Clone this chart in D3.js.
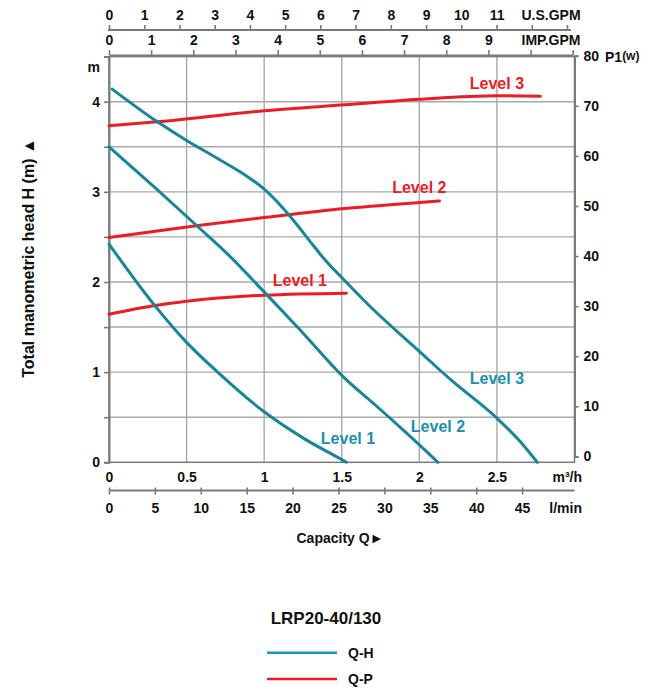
<!DOCTYPE html>
<html>
<head>
<meta charset="utf-8">
<script src="https://cdn.jsdelivr.net/npm/d3@7"></script>
<style>
  body { margin: 0; background: #fff; }
  text { font-family: "Liberation Sans", Arial, sans-serif; font-weight: bold; fill: #111; }
</style>
</head>
<body>
<div id="chart"></div>
<script>
// ---- data (flow in m3/h, head in m, power in W) ----
const flowQH1 = [0, 0.285, 0.5, 0.7, 1.0, 1.26, 1.5, 1.53]
const headQH1 = [2.42, 1.76, 1.33, 1.00, 0.56, 0.26, 0.03, 0]
const flowQH2 = [0, 0.3, 0.575, 0.77, 1.0, 1.22, 1.52, 1.72, 1.92, 2.12]
const headQH2 = [3.50, 3.04, 2.61, 2.30, 1.89, 1.49, 0.93, 0.63, 0.32, 0]
const flowQH3 = [0.02, 0.3, 0.5, 0.7, 0.9, 1.0, 1.1, 1.2, 1.3, 1.4, 1.5, 1.7, 2.0, 2.2, 2.5, 2.65, 2.76]
const headQH3 = [4.14, 3.79, 3.57, 3.37, 3.16, 3.03, 2.86, 2.66, 2.44, 2.23, 2.05, 1.70, 1.23, 0.92, 0.49, 0.23, 0]

const flowQP1 = [0, 0.285, 0.5, 1.0, 1.53]
const powerQP1 = [28.4, 30.1, 31.0, 32.2, 32.6]
const flowQP2 = [0, 0.575, 1.0, 1.52, 2.0, 2.13]
const powerQP2 = [43.7, 46.1, 47.7, 49.5, 50.7, 51.0]
const flowQP3 = [0, 0.31, 1.0, 1.52, 2.0, 2.5, 2.78]
const powerQP3 = [66.0, 66.8, 69.0, 70.2, 71.3, 72.0, 71.9]

const levelNames = ['Level 1', 'Level 2', 'Level 3']

// ---- axis ticks ----
const m3hTicks = [0, 0.5, 1, 1.5, 2, 2.5]
const lminTicks = [0, 5, 10, 15, 20, 25, 30, 35, 40, 45]
const usGpmTicks = [0, 1, 2, 3, 4, 5, 6, 7, 8, 9, 10, 11, 12, 13]
const usGpmLabels = [0, 1, 2, 3, 4, 5, 6, 7, 8, 9, 10, 11]
const impGpmTicks = [0, 1, 2, 3, 4, 5, 6, 7, 8, 9, 10, 11]
const impGpmLabels = [0, 1, 2, 3, 4, 5, 6, 7, 8, 9]
const headTicks = [0, 0.5, 1, 1.5, 2, 2.5, 3, 3.5, 4]
const headLabels = [0, 1, 2, 3, 4]
const powerTicks = [0, 10, 20, 30, 40, 50, 60, 70, 80]

const QH_COLOR = '#17859a'
const QH_LABEL_COLOR = '#1a8fb0'
const QH_LEGEND_COLOR = '#1b93c4'
const QP_COLOR = '#ec1c24'
const GRID_COLOR = '#a9a9a9'
const AXIS_COLOR = '#7a7a7a'

var width = 645
var height = 688
var plot = {left: 109, right: 574.5, top: 56.6, bottom: 462.3}

var svg = d3.select('#chart').append('svg')
  .attr('width', width)
  .attr('height', height)

// scales
var xScale = d3.scaleLinear().domain([0, 3]).range([plot.left, plot.right])
var yScale = d3.scaleLinear().domain([0, 4.5]).range([plot.bottom, plot.top])
var pScale = d3.scaleLinear().domain([0, 80]).range([456.5, 55.7])
var lminScale = d3.scaleLinear().domain([0, 50]).range([plot.left, 568])
var usScale = d3.scaleLinear().domain([0, 13]).range([plot.left, 567])
var impScale = d3.scaleLinear().domain([0, 11]).range([plot.left, 572.7])

// grid
var grid = svg.append('g').attr('id', 'grid')
m3hTicks.filter(d => d > 0).forEach(d => {
  grid.append('line')
    .attr('x1', xScale(d)).attr('x2', xScale(d))
    .attr('y1', plot.top).attr('y2', plot.bottom)
    .attr('stroke', GRID_COLOR).attr('stroke-width', 1.4)
})
headTicks.filter(d => d > 0).forEach(d => {
  grid.append('line')
    .attr('x1', plot.left).attr('x2', plot.right)
    .attr('y1', yScale(d)).attr('y2', yScale(d))
    .attr('stroke', GRID_COLOR).attr('stroke-width', 1.4)
})
svg.append('rect')
  .attr('x', plot.left).attr('y', plot.top)
  .attr('width', plot.right - plot.left).attr('height', plot.bottom - plot.top)
  .attr('fill', 'none').attr('stroke', AXIS_COLOR).attr('stroke-width', 1.5)

function styleAxis (g, fontSize) {
  g.selectAll('path.domain').attr('stroke', AXIS_COLOR).attr('stroke-width', 2)
  g.selectAll('.tick line').attr('stroke', AXIS_COLOR).attr('stroke-width', 1.6)
  g.selectAll('text')
    .attr('font-family', '"Liberation Sans", Arial, sans-serif')
    .attr('font-weight', 'bold')
    .attr('font-size', fontSize)
    .attr('fill', '#111')
}

// left axis (head)
var leftAxis = svg.append('g')
  .attr('transform', 'translate(' + plot.left + ',0)')
  .call(d3.axisLeft(yScale).tickValues(headTicks).tickSize(5).tickPadding(4)
    .tickFormat(d => headLabels.includes(d) ? d : ''))
styleAxis(leftAxis, 14)
svg.append('text')
  .attr('x', 100).attr('y', 72)
  .attr('text-anchor', 'end').attr('font-size', 14)
  .text('m')

// right axis (power)
var rightAxis = svg.append('g')
  .attr('transform', 'translate(' + plot.right + ',0)')
  .call(d3.axisRight(pScale).tickValues(powerTicks).tickSize(4).tickPadding(5))
styleAxis(rightAxis, 14)
svg.append('text')
  .attr('x', 605).attr('y', 62)
  .attr('font-size', 14)
  .text('P1')
  .append('tspan')
  .attr('font-size', 12).attr('dy', -2)
  .text('(w)')

// bottom: m3/h labels under the frame
var m3hAxis = svg.append('g')
  .attr('transform', 'translate(0,' + plot.bottom + ')')
  .call(d3.axisBottom(xScale).tickValues(m3hTicks).tickSize(0).tickPadding(9.5)
    .tickFormat(d => String(d)))
styleAxis(m3hAxis, 14)
m3hAxis.select('path.domain').remove()
svg.append('text')
  .attr('x', 582).attr('y', 482)
  .attr('text-anchor', 'end').attr('font-size', 14)
  .text('m³/h')

// bottom: l/min axis
var lminAxis = svg.append('g')
  .attr('transform', 'translate(0,490.5)')
  .call(d3.axisBottom(lminScale).tickValues(lminTicks).tickSize(4).tickPadding(9).tickSizeOuter(0))
styleAxis(lminAxis, 14)
lminAxis.select('path.domain').attr('d', 'M' + plot.left + ',0H' + plot.right)
lminAxis.selectAll('.tick line').attr('y1', -3)
svg.append('text')
  .attr('x', 582).attr('y', 513)
  .attr('text-anchor', 'end').attr('font-size', 14)
  .text('l/min')

svg.append('text')
  .attr('x', 340).attr('y', 543)
  .attr('text-anchor', 'middle').attr('font-size', 14)
  .text('Capacity Q►')

// top: US GPM
var usAxis = svg.append('g')
  .attr('transform', 'translate(0,30)')
  .call(d3.axisTop(usScale).tickValues(usGpmTicks).tickSize(5).tickPadding(5.5).tickSizeOuter(0)
    .tickFormat(d => usGpmLabels.includes(d) ? d : ''))
styleAxis(usAxis, 14)
usAxis.select('path.domain').attr('d', 'M' + (plot.left - 1) + ',0H571')
svg.append('text')
  .attr('x', 551).attr('y', 19.5)
  .attr('text-anchor', 'middle').attr('font-size', 14)
  .text('U.S.GPM')

// top: IMP GPM
var impAxis = svg.append('g')
  .attr('transform', 'translate(0,' + (plot.top - 1.5) + ')')
  .call(d3.axisTop(impScale).tickValues(impGpmTicks).tickSize(5).tickPadding(5).tickSizeOuter(0)
    .tickFormat(d => impGpmLabels.includes(d) ? d : ''))
styleAxis(impAxis, 14)
svg.append('text')
  .attr('x', 551).attr('y', 44.5)
  .attr('text-anchor', 'middle').attr('font-size', 14)
  .text('IMP.GPM')

// y title
svg.append('text')
  .attr('transform', 'translate(34,258) rotate(-90)')
  .attr('text-anchor', 'middle').attr('font-size', 16)
  .text('Total manometric head H (m)  ▲')

// curves
var headLine = d3.line()
  .x(d => xScale(d[0])).y(d => yScale(d[1]))
  .curve(d3.curveMonotoneX)
var powerLine = d3.line()
  .x(d => xScale(d[0])).y(d => pScale(d[1]))
  .curve(d3.curveMonotoneX)

var qhSeries = [[flowQH1, headQH1], [flowQH2, headQH2], [flowQH3, headQH3]]
var qpSeries = [[flowQP1, powerQP1], [flowQP2, powerQP2], [flowQP3, powerQP3]]

var curves = svg.append('g').attr('id', 'curves')
qpSeries.forEach(s => {
  curves.append('path')
    .attr('d', powerLine(s[0].map((q, i) => [q, s[1][i]])))
    .attr('fill', 'none').attr('stroke', QP_COLOR)
    .attr('stroke-width', 3).attr('stroke-linecap', 'round')
})
qhSeries.forEach(s => {
  curves.append('path')
    .attr('d', headLine(s[0].map((q, i) => [q, s[1][i]])))
    .attr('fill', 'none').attr('stroke', QH_COLOR)
    .attr('stroke-width', 3).attr('stroke-linecap', 'round')
})

// curve labels
var qpLabelPos = [[1.23, 280.7], [2.0, 187], [2.5, 83.3]]
var qhLabelPos = [[1.54, 438.3], [2.12, 426.7], [2.5, 378.3]]
levelNames.forEach((name, i) => {
  svg.append('text')
    .attr('x', xScale(qpLabelPos[i][0])).attr('y', qpLabelPos[i][1])
    .attr('dy', '0.36em')
    .attr('text-anchor', 'middle').attr('font-size', 16)
    .style('fill', QP_COLOR)
    .text(name)
  svg.append('text')
    .attr('x', xScale(qhLabelPos[i][0])).attr('y', qhLabelPos[i][1])
    .attr('dy', '0.36em')
    .attr('text-anchor', 'middle').attr('font-size', 16)
    .style('fill', QH_LABEL_COLOR)
    .text(name)
})

// legend
svg.append('text')
  .attr('x', 326).attr('y', 623.5)
  .attr('text-anchor', 'middle').attr('font-size', 17)
  .text('LRP20-40/130')
var legendItems = [['Q-H', QH_LEGEND_COLOR, 652.7], ['Q-P', QP_COLOR, 679]]
legendItems.forEach(item => {
  svg.append('line')
    .attr('x1', 267).attr('x2', 337)
    .attr('y1', item[2]).attr('y2', item[2])
    .attr('stroke', item[1]).attr('stroke-width', 2.5)
  svg.append('text')
    .attr('x', 348).attr('y', item[2] + 5)
    .attr('font-size', 14)
    .text(item[0])
})
</script>
</body>
</html>
